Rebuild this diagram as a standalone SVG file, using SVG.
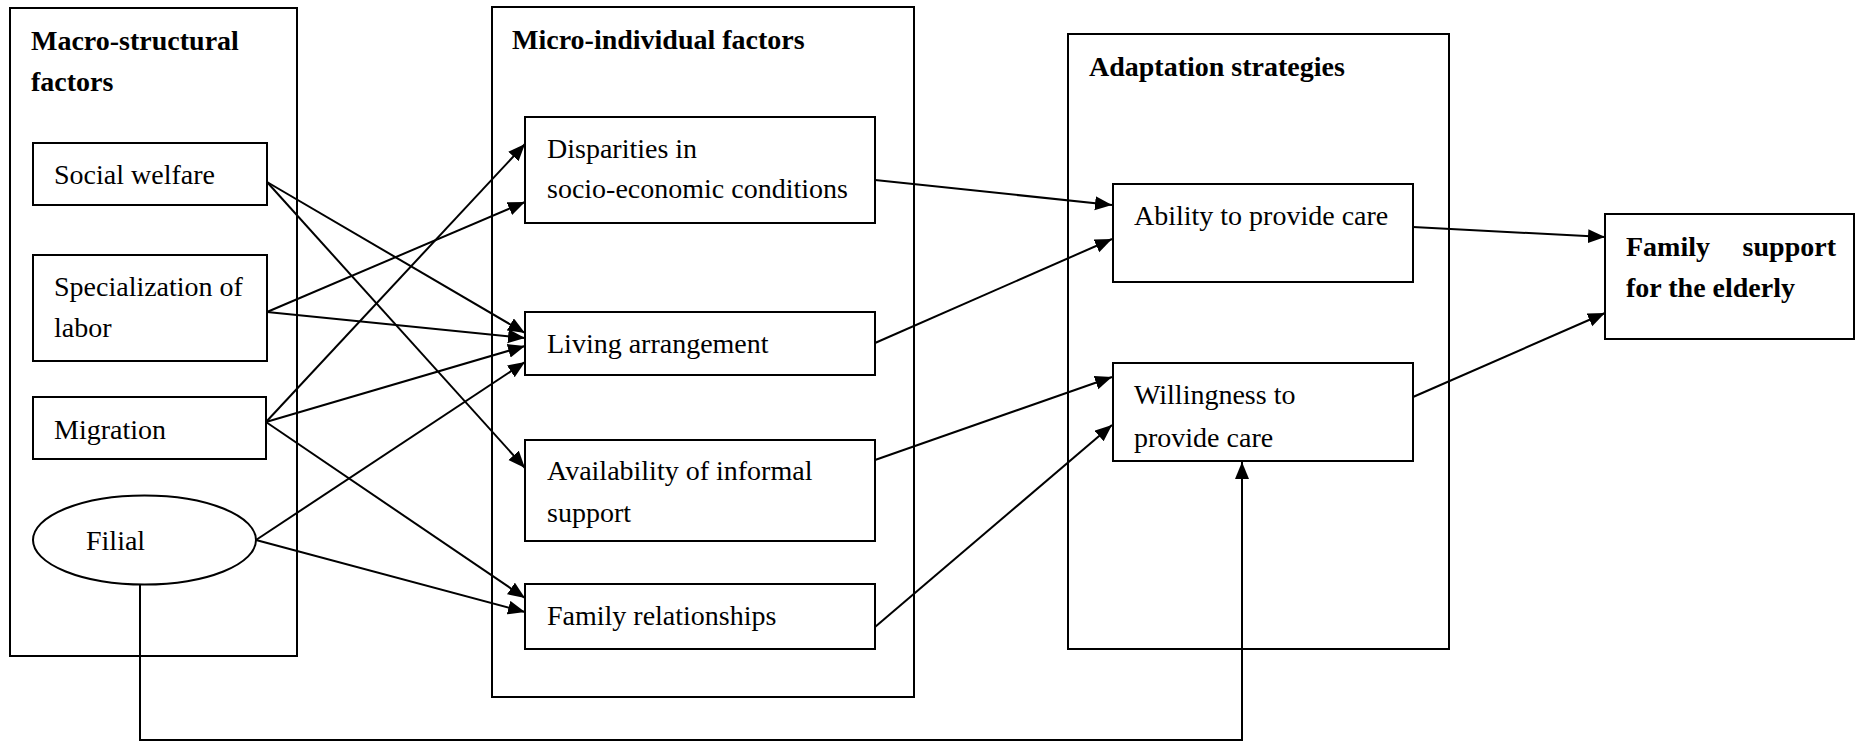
<svg xmlns="http://www.w3.org/2000/svg" width="1856" height="742" viewBox="0 0 1856 742">
<style>
.box{fill:none;stroke:#000;stroke-width:2}
.t{font-family:"Liberation Serif","Times New Roman",serif;font-size:28px;fill:#000}
.b{font-weight:bold}
.c{fill:none;stroke:#000;stroke-width:2}
</style>
<defs>
<marker id="ah" markerUnits="userSpaceOnUse" markerWidth="18" markerHeight="15" refX="17" refY="7" orient="auto">
<path d="M0,0 L17,7 L0,14 z" fill="#000"/>
</marker>
</defs>
<rect width="1856" height="742" fill="#fff"/>
<g id="macro">
<rect class="box" x="10" y="8" width="287" height="648"/>
<text class="t b" x="31" y="50">Macro-structural</text>
<text class="t b" x="31" y="91">factors</text>
</g>
<g id="social-welfare">
<rect class="box" x="33" y="143" width="234" height="62"/>
<text class="t" x="54" y="184">Social welfare</text>
</g>
<g id="specialization">
<rect class="box" x="33" y="255" width="234" height="106"/>
<text class="t" x="54" y="296">Specialization of</text>
<text class="t" x="54" y="337">labor</text>
</g>
<g id="migration">
<rect class="box" x="33" y="397" width="233" height="62"/>
<text class="t" x="54" y="439">Migration</text>
</g>
<g id="filial">
<ellipse class="box" cx="144.5" cy="540" rx="111.5" ry="44.5"/>
<text class="t" x="86" y="550">Filial</text>
</g>
<g id="micro">
<rect class="box" x="492" y="7" width="422" height="690"/>
<text class="t b" x="512" y="49">Micro-individual factors</text>
</g>
<g id="disparities">
<rect class="box" x="525" y="117" width="350" height="106"/>
<text class="t" x="547" y="158">Disparities in</text>
<text class="t" x="547" y="198">socio-economic conditions</text>
</g>
<g id="living">
<rect class="box" x="525" y="312" width="350" height="63"/>
<text class="t" x="547" y="353">Living arrangement</text>
</g>
<g id="availability">
<rect class="box" x="525" y="440" width="350" height="101"/>
<text class="t" x="547" y="480">Availability of informal</text>
<text class="t" x="547" y="522">support</text>
</g>
<g id="family-rel">
<rect class="box" x="525" y="584" width="350" height="65"/>
<text class="t" x="547" y="625">Family relationships</text>
</g>
<g id="adaptation">
<rect class="box" x="1068" y="34" width="381" height="615"/>
<text class="t b" x="1089" y="76">Adaptation strategies</text>
</g>
<g id="ability">
<rect class="box" x="1113" y="184" width="300" height="98"/>
<text class="t" x="1134" y="225">Ability to provide care</text>
</g>
<g id="willingness">
<rect class="box" x="1113" y="363" width="300" height="98"/>
<text class="t" x="1134" y="404">Willingness to</text>
<text class="t" x="1134" y="447">provide care</text>
</g>
<g id="family-support">
<rect class="box" x="1605" y="214" width="249" height="125"/>
<text class="t b" x="1626" y="256" word-spacing="25.6">Family support</text>
<text class="t b" x="1626" y="297">for the elderly</text>
</g>
<g id="connectors">
<line class="c" x1="267" y1="182" x2="525" y2="333" marker-end="url(#ah)"/>
<line class="c" x1="267" y1="182" x2="525" y2="468" marker-end="url(#ah)"/>
<line class="c" x1="267" y1="312" x2="525" y2="202" marker-end="url(#ah)"/>
<line class="c" x1="267" y1="312" x2="525" y2="338" marker-end="url(#ah)"/>
<line class="c" x1="266" y1="422" x2="525" y2="144" marker-end="url(#ah)"/>
<line class="c" x1="266" y1="422" x2="525" y2="346" marker-end="url(#ah)"/>
<line class="c" x1="266" y1="422" x2="525" y2="598" marker-end="url(#ah)"/>
<line class="c" x1="256" y1="540" x2="525" y2="362" marker-end="url(#ah)"/>
<line class="c" x1="256" y1="540" x2="525" y2="612" marker-end="url(#ah)"/>
<line class="c" x1="875" y1="180" x2="1112" y2="205" marker-end="url(#ah)"/>
<line class="c" x1="875" y1="343" x2="1112" y2="239" marker-end="url(#ah)"/>
<line class="c" x1="875" y1="460" x2="1112" y2="377" marker-end="url(#ah)"/>
<line class="c" x1="875" y1="627" x2="1112" y2="425" marker-end="url(#ah)"/>
<line class="c" x1="1413" y1="227" x2="1605" y2="237" marker-end="url(#ah)"/>
<line class="c" x1="1413" y1="397" x2="1605" y2="313" marker-end="url(#ah)"/>
<path class="c" d="M140,584 V740 H1242 V462" marker-end="url(#ah)"/>
</g>
</svg>
